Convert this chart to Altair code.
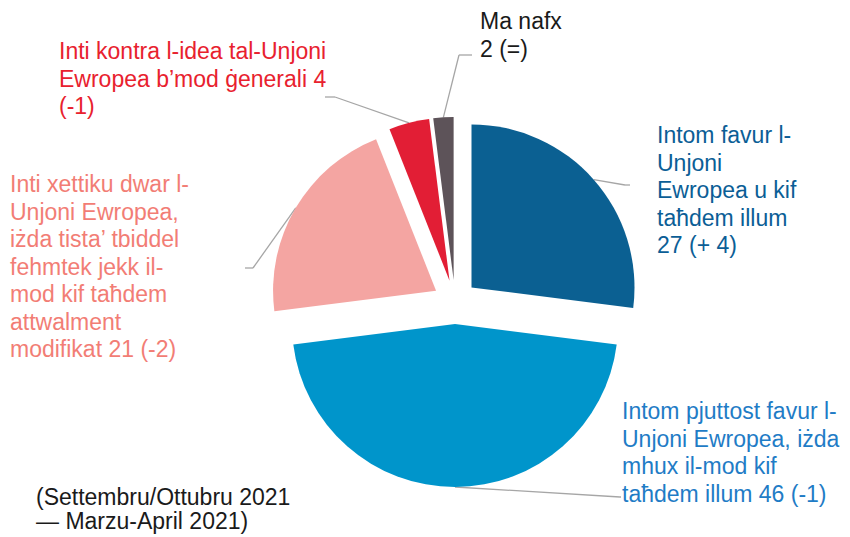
import altair as alt
import pandas as pd

# ---- data ----
categories = [
    "Intom favur l-Unjoni Ewropea u kif taħdem illum",
    "Intom pjuttost favur l-Unjoni Ewropea, iżda mhux il-mod kif taħdem illum",
    "Inti xettiku dwar l-Unjoni Ewropea, iżda tista’ tbiddel fehmtek",
    "Inti kontra l-idea tal-Unjoni Ewropea b’mod ġenerali",
    "Ma nafx",
]
values = [27, 46, 21, 4, 2]
changes = ["+ 4", "-1", "-2", "-1", "="]
label_templates = [
    "Intom favur l-\nUnjoni\nEwropea u kif\ntaħdem illum\n{v} ({c})",
    "Intom pjuttost favur l-\nUnjoni Ewropea, iżda\nmhux il-mod kif\ntaħdem illum {v} ({c})",
    "Inti xettiku dwar l-\nUnjoni Ewropea,\niżda tista’ tbiddel\nfehmtek jekk il-\nmod kif taħdem\nattwalment\nmodifikat {v} ({c})",
    "Inti kontra l-idea tal-Unjoni\nEwropea b’mod ġenerali {v}\n({c})",
    "Ma nafx\n{v} ({c})",
]
footnote = "(Settembru/Ottubru 2021\n— Marzu-April 2021)"

# ---- styles ----
slice_colors = ["#0b6092", "#0095cb", "#f4a5a2", "#e21e35", "#5d5359"]
label_colors = ["#0b5e96", "#1f7cc6", "#f27d75", "#e8212e", "#1a1a1a"]

# ---- layout (page pixels) ----
M = 8
CX, CY, R, D = 455, 302, 163, 22
label_x = [657, 622, 10, 59, 480]
label_y = [143, 419, 192, 59, 29]
elbow_x = [625, 620, 253, 335, 459]
elbow_y = [185, 497, 268, 97, 55]
end_x = [630, 621, 245, 325, 472]
end_y = [185, 497, 268, 97, 55]
FONT = "Liberation Sans"
FS = 23.0

df = pd.DataFrame({
    "category": categories,
    "value": values,
    "order": list(range(len(values))),
    "label": [t.format(v=v, c=c) for t, v, c in zip(label_templates, values, changes)],
    "slice_color": slice_colors,
    "label_color": label_colors,
    "lx": [x - M for x in label_x],
    "ly": [y - M for y in label_y],
    "ex": [x - M for x in elbow_x],
    "ey": [y - M for y in elbow_y],
    "fx": [x - M for x in end_x],
    "fy": [y - M for y in end_y],
})

base = (
    alt.Chart(df)
    .transform_window(cum="sum(value)", sort=[alt.SortField("order")], frame=[None, 0])
    .transform_joinaggregate(total="sum(value)")
    .transform_calculate(
        t1="2*PI*datum.cum/datum.total",
        t0="2*PI*(datum.cum-datum.value)/datum.total",
    )
    .transform_calculate(mid="(datum.t0+datum.t1)/2")
    .transform_calculate(
        px=f"{CX - M}+{D}*sin(datum.mid)",
        py=f"{CY - M}-{D}*cos(datum.mid)",
    )
    .transform_calculate(
        sx=f"datum.px+{R}*sin(datum.mid)",
        sy=f"datum.py-{R}*cos(datum.mid)",
    )
)

pie = base.mark_arc(outerRadius=R).encode(
    x=alt.X("px:Q", scale=None, axis=None),
    y=alt.Y("py:Q", scale=None, axis=None),
    theta=alt.Theta("t0:Q", scale=None),
    theta2="t1:Q",
    color=alt.Color("slice_color:N", scale=None),
)

lead1 = base.mark_rule(color="#a6a6a6", strokeWidth=1.3).encode(
    x=alt.X("sx:Q", scale=None, axis=None),
    y=alt.Y("sy:Q", scale=None, axis=None),
    x2="ex:Q",
    y2="ey:Q",
)
lead2 = base.mark_rule(color="#a6a6a6", strokeWidth=1.3).encode(
    x=alt.X("ex:Q", scale=None, axis=None),
    y=alt.Y("ey:Q", scale=None, axis=None),
    x2="fx:Q",
    y2="fy:Q",
)

labels = alt.Chart(df).mark_text(
    align="left", baseline="alphabetic", lineBreak="\n", lineHeight=27.5,
    fontSize=FS, font=FONT,
).encode(
    x=alt.X("lx:Q", scale=None, axis=None),
    y=alt.Y("ly:Q", scale=None, axis=None),
    text="label:N",
    color=alt.Color("label_color:N", scale=None),
)

foot = alt.Chart(pd.DataFrame({"t": [footnote]})).mark_text(
    align="left", baseline="alphabetic", lineBreak="\n", lineHeight=24,
    fontSize=FS, font=FONT, color="#1a1a1a",
).encode(
    x=alt.value(36 - M),
    y=alt.value(505 - M),
    text="t:N",
)

chart = (
    alt.layer(lead1, lead2, pie, labels, foot)
    .properties(width=834, height=529, padding=0, autosize="none")
    .configure_view(stroke=None)
)

chart.save("out.html", embed_options={"renderer": "svg", "actions": False})
